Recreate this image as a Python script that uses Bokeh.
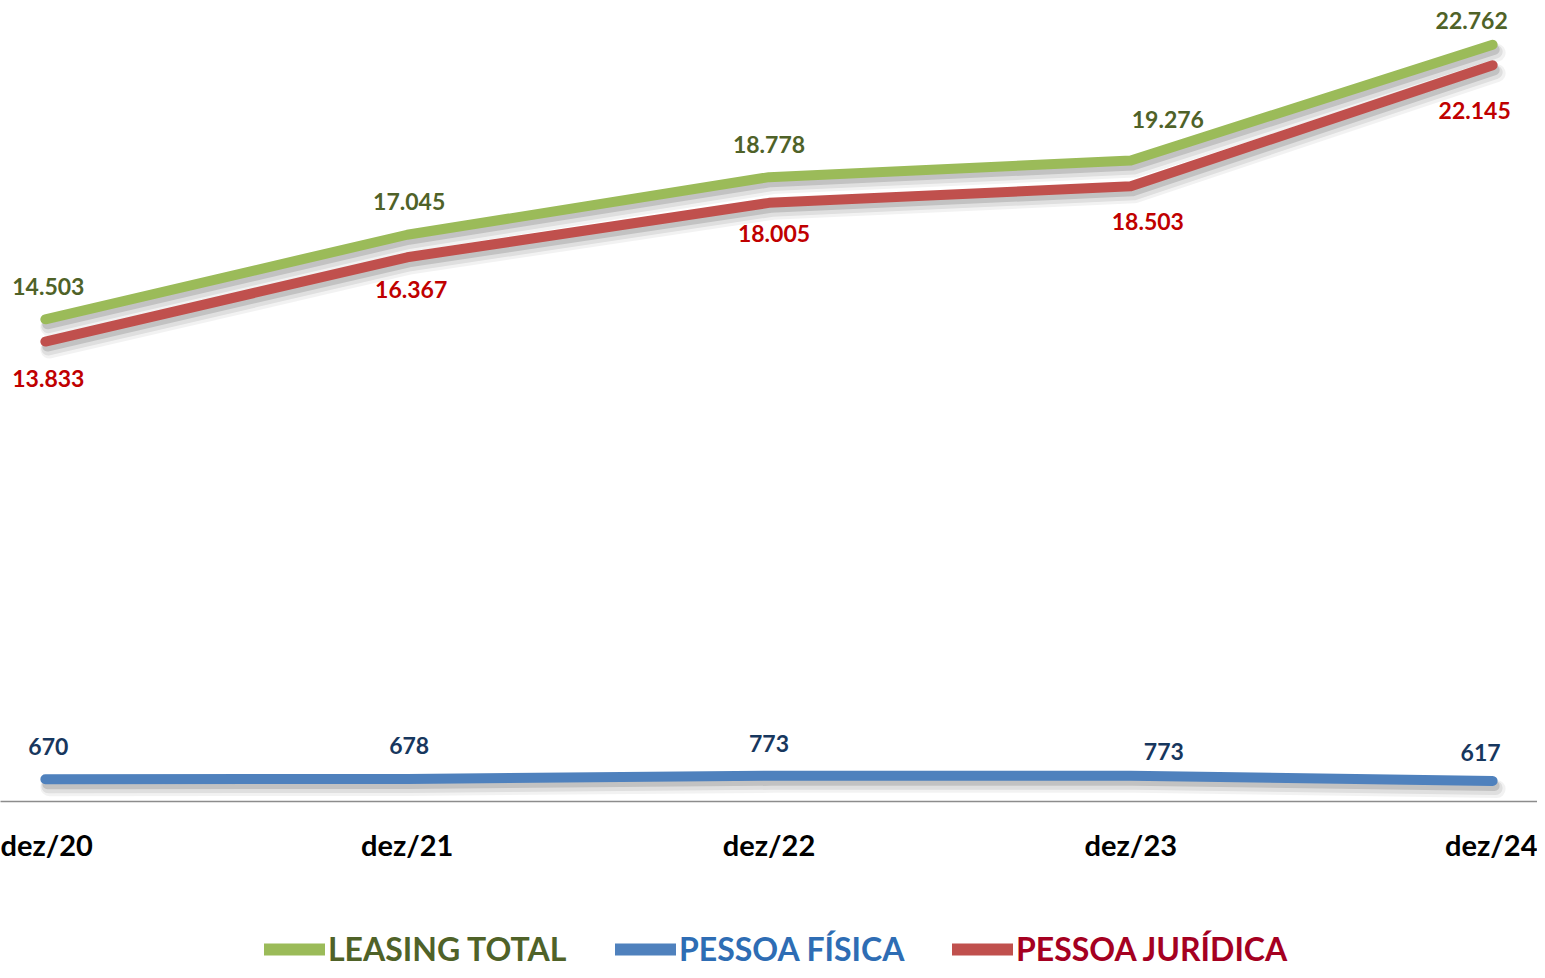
from bokeh.plotting import figure
from bokeh.layouts import column
from bokeh.models import Range1d, FixedTicker, ColumnDataSource, Legend, LegendItem
from bokeh.transform import dodge
from bokeh.core.properties import value
from bokeh.embed import file_html
from bokeh.resources import INLINE

# ---------------- data ----------------
periods = ["dez/20", "dez/21", "dez/22", "dez/23", "dez/24"]
leasing_total = [14503, 17045, 18778, 19276, 22762]
pessoa_fisica = [670, 678, 773, 773, 617]
pessoa_juridica = [13833, 16367, 18005, 18503, 22145]

# ---------------- styles ----------------
W = 1537
TOP, FRAME_H, BOTTOM = 3, 798, 121
H1 = TOP + FRAME_H + BOTTOM
H2 = 46
Y_MAX = 24000
X_PAD = 0.124
FONT = "Lato"

series = [
    # name, values, line color, label color, legend color, label x offsets, label y offsets, legend x
    ("PESSOA FÍSICA", pessoa_fisica, "#4F81BD", "#17375E", "#2E6DB4",
     [3, 2, 0, 33, -12], [-33, -33, -32, -24, -28], 615),
    ("LEASING TOTAL", leasing_total, "#9BBB59", "#4F6228", "#4F6228",
     [3, 2, 0, 37, -21], [-33, -33, -33, -41, -24], 264),
    ("PESSOA JURÍDICA", pessoa_juridica, "#C0504D", "#C00000", "#A50021",
     [3, 4, 5, 17, -18], [37, 32, 31, 35, 45], 952),
]

def fmt(v):
    return f"{v:,}".replace(",", ".")

p = figure(width=W, height=H1, output_backend="svg", toolbar_location=None,
           x_range=Range1d(-X_PAD, len(periods) - 1 + X_PAD),
           y_range=Range1d(0, Y_MAX),
           min_border_left=0, min_border_right=0, min_border_top=TOP,
           min_border_bottom=BOTTOM)
p.outline_line_color = None
p.background_fill_color = "white"
p.border_fill_color = "white"
p.xgrid.visible = False
p.ygrid.visible = False
p.yaxis.visible = False

xs = list(range(len(periods)))
p.xaxis.ticker = FixedTicker(ticks=xs)
p.xaxis.major_label_overrides = {i: s for i, s in enumerate(periods)}
p.xaxis.axis_line_color = "#8C8C8C"
p.xaxis.axis_line_width = 1.5
p.xaxis.major_tick_line_color = None
p.xaxis.minor_tick_line_color = None
p.xaxis.major_tick_out = 0
p.xaxis.major_label_standoff = 25
p.xaxis.major_label_text_font = FONT
p.xaxis.major_label_text_font_style = "bold"
p.xaxis.major_label_text_font_size = "29px"
p.xaxis.major_label_text_color = "#000000"

px_x = (len(periods) - 1 + 2 * X_PAD) / W
px_y = Y_MAX / FRAME_H

# legend strip
lf = figure(width=W, height=H2, output_backend="svg", toolbar_location=None,
            x_range=Range1d(0, 1), y_range=Range1d(0, 1),
            min_border_left=0, min_border_right=0, min_border_top=0, min_border_bottom=0)
lf.axis.visible = False
lf.grid.visible = False
lf.outline_line_color = None
lf.background_fill_color = "white"
lf.border_fill_color = "white"

for name, vals, lc, tc, legc, xo, yo, legx in series:
    src = ColumnDataSource(dict(x=xs, y=vals, lab=[fmt(v) for v in vals], xo=xo, yo=yo))
    # soft shadow
    for w, a, dx, dy in [(18, 0.05, 4, 8), (14, 0.08, 3, 7), (10, 0.13, 2, 5)]:
        p.line(dodge("x", dx * px_x, range=p.x_range), dodge("y", -dy * px_y, range=p.y_range),
               source=src, line_color="#000000", line_alpha=a, line_width=w,
               line_cap="round", line_join="round")
    p.line("x", "y", source=src, line_color=lc, line_width=10,
           line_cap="round", line_join="round")
    p.text("x", "y", text="lab", source=src, x_offset="xo", y_offset="yo",
           text_color=tc, text_font=value(FONT), text_font_style="bold",
           text_font_size="23px", text_align="center", text_baseline="middle")

    # legend entry: swatch renderer placed outside the strip's visible range
    lsrc = ColumnDataSource(dict(x=[-10, -9], y=[-10, -10]))
    lr = lf.line("x", "y", source=lsrc, line_color=lc, line_width=12, line_cap="round")
    leg = Legend(items=[LegendItem(label=name, renderers=[lr])],
                 location=(legx, 0), orientation="horizontal",
                 glyph_width=61, glyph_height=36, label_standoff=3,
                 padding=0, margin=0, border_line_color=None,
                 background_fill_alpha=0,
                 label_text_font=FONT, label_text_font_style="bold",
                 label_text_font_size="32px", label_text_color=legc,
                 label_height=36)
    lf.add_layout(leg, "center")

layout = column(p, lf, spacing=0)
open("out.html", "w").write(file_html(layout, INLINE))
